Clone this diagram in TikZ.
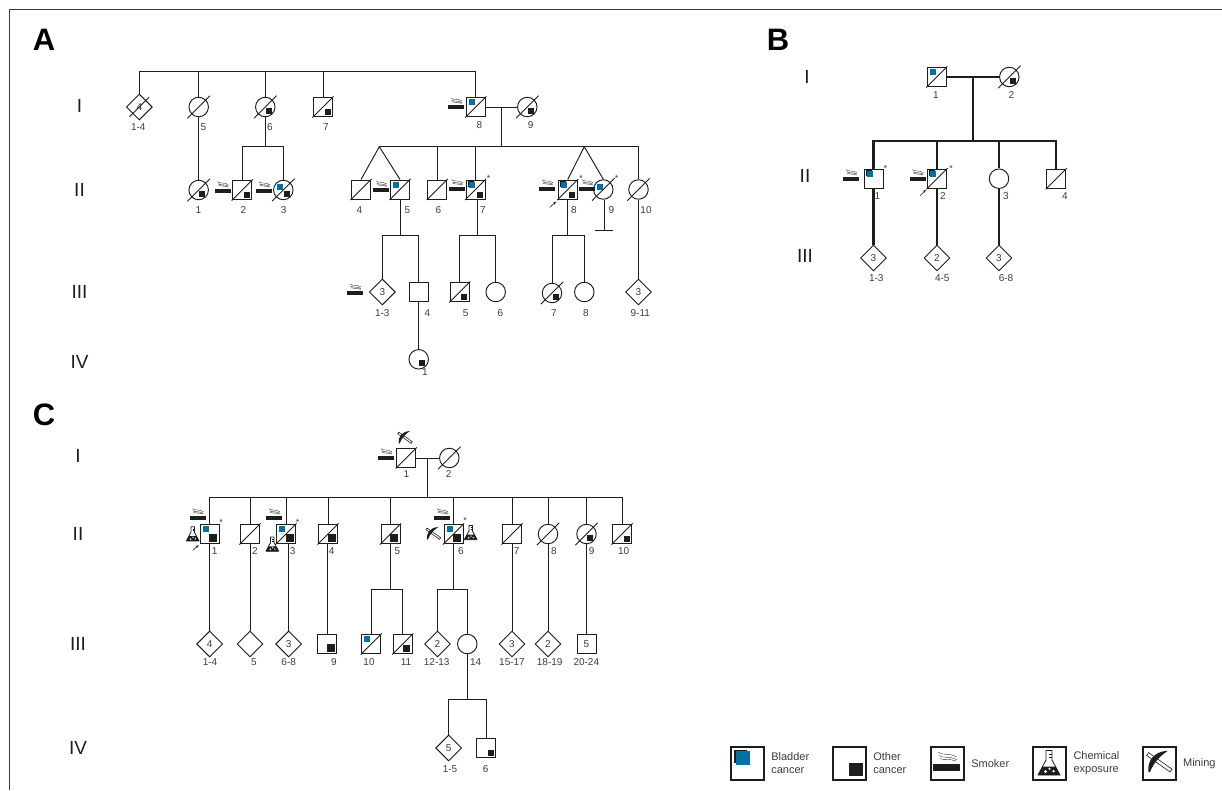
\documentclass[tikz,border=0pt]{standalone}
\usepackage{fontspec}
\setmainfont{Liberation Sans}
\usetikzlibrary{shapes.geometric,arrows.meta,positioning}
\definecolor{bladderblue}{HTML}{0071A6}
\definecolor{inkblack}{HTML}{1D1D1B}
\definecolor{tagtext}{HTML}{3C3C3B}
\newcommand{\mbl}{\fill[bladderblue] ([shift={(-7pt,2pt)}]path picture bounding box.center) rectangle +(6pt,6pt);}
\newcommand{\mbk}{\fill[inkblack] ([shift={(-8pt,3pt)}]path picture bounding box.center) rectangle +(6pt,6pt);\mbl}
\newcommand{\mot}[1]{\fill[inkblack] ([shift={(7.5pt,-8pt)}]path picture bounding box.center) rectangle +(-#1,#1);}
\newcommand{\mcbl}{\fill[bladderblue] ([shift={(-6pt,0pt)}]path picture bounding box.center) rectangle +(6pt,6pt);}
\newcommand{\mcot}{\fill[inkblack] ([shift={(0.5pt,-1pt)}]path picture bounding box.center) rectangle +(6pt,-6pt);}
\begin{document}
\begin{tikzpicture}[
  x=1pt, y=1pt, line width=.95pt, inkblack,
  male/.style={rectangle, draw, minimum size=19pt, inner sep=0pt, font=\fontsize{10}{10}\selectfont},
  female/.style={circle, draw, minimum size=19.5pt, inner sep=0pt},
  unknown/.style={diamond, aspect=1, draw, minimum size=26pt, inner sep=0pt, text=tagtext, font=\fontsize{10}{10}\selectfont},
  dead/.style={append after command={([shift={(-#1,-#1)}]\tikzlastnode.south west) edge[line width=.9pt] ([shift={(#1,#1)}]\tikzlastnode.north east)}},
  dead/.default=.6pt,
  marks/.style={path picture={#1}},
  tag/.style={text=tagtext, inner sep=0pt, font=\fontsize{10}{10}\selectfont},
  star/.style={text=tagtext, inner sep=0pt, font=\fontsize{9}{9}\selectfont},
  gen/.style={text=inkblack, inner sep=0pt, font=\fontsize{19}{19}\selectfont},
  panel/.style={text=black, inner sep=0pt, font=\fontsize{31}{31}\selectfont\bfseries},
  bline/.style={line width=2.3pt},
  proband/.style={line width=.6pt, -{Stealth[length=3.5pt,width=2.5pt]}},
  legbox/.style={rectangle, draw, line width=1.7pt, minimum size=33pt, inner sep=0pt},
  legtext/.style={text=tagtext, inner sep=0pt, align=left, font=\fontsize{11}{13.4}\selectfont},
  smoker/.pic={
    \fill (-8,-2.1) rectangle (8,2.1);
    \draw[line width=.35pt] (-5,9) .. controls (-2,6.5) and (1,9) .. (6,6) (-4.5,7) .. controls (-2,5) and (1,7) .. (6,4.5) (-4,5.2) .. controls (-2,4) and (1,5.5) .. (5.5,3.6);
  },
  flask/.pic={
    \draw[line width=.8pt, line join=round] (-3,12.5) -- (-3,3) -- (-11,-12) -- (11,-12) -- (3,3) -- (3,12.5) -- cycle;
    \fill (-6.4,-3.5) -- (6.4,-3.5) -- (11,-12) -- (-11,-12) -- cycle;
    \fill[white] (-3.5,-8.7) circle (1.5) (0.5,-5.8) circle (1.2) (4.5,-8.2) circle (1.3);
    \draw[line width=.5pt] (0,9) -- (3,9) (0,6) -- (3,6);
  },
  pick/.pic={
    \draw[fill=white, line width=.6pt] (-10.7,10.7) -- (12.7,-5.9) -- (10.7,-8.7) -- (-12.7,7.9) -- cycle;
    \fill (-11,-8.5) .. controls (-12,3) and (-5,12) .. (8.5,12.5) .. controls (1,7.5) and (-5.5,1) .. (-9.5,-9) -- cycle;
  },
  ]
 \useasboundingbox (0,0) rectangle (1222,-790);
 \draw[tagtext, line width=1pt] (9,-790) -- (9,-9) -- (1222,-9);

 \node[panel] (pa) at (44,-40) {A};
 \node[panel] (pb) at (778,-40) {B};
 \node[panel] (pc) at (44,-415) {C};
 \foreach \x/\y/\lab [count=\i] in {79.5/-105.5/I, 79.5/-190/II, 79.5/-292/III, 79.5/-362/IV, 807/-76.7/I, 805/-176/II, 805/-256/III, 78/-456/I, 78/-534/II, 78/-644/III, 78/-748/IV}
   \node[gen] (g\i) at (\x,\y) {\lab};

 % panel A
 \node[unknown, dead=3pt] (a11) at (139.3,-107) {4};
 \node[female, dead=4pt] (a15) at (198.7,-107) {};
 \node[female, dead=4pt, marks={\mcot}] (a16) at (265.3,-107) {};
 \node[male, dead, marks={\mot{6pt}}] (a17) at (323,-107) {};
 \node[male, dead, marks={\mbl}] (a18) at (475.8,-107) {};
 \node[female, dead=4pt, marks={\mcot}] (a19) at (527.3,-107) {};

 \node[female, dead=4pt, marks={\mcot}] (a21) at (198.7,-190) {};
 \node[male, dead, marks={\mot{6pt}}] (a22) at (242.3,-190) {};
 \node[female, dead=4pt, marks={\mcbl\mcot}] (a23) at (283.3,-190) {};
 \node[male, dead] (a24) at (361,-189.5) {};
 \node[male, dead, marks={\mbl}] (a25) at (400,-189.5) {};
 \node[male, dead] (a26) at (437.3,-189.5) {};
 \node[male, dead, marks={\mbk\mot{6pt}}] (a27) at (475.5,-189.5) {};
 \node[male, dead, marks={\mbk\mot{6pt}}] (a28) at (567.7,-189.5) {};
 \node[female, dead=4pt, marks={\mcbl}] (a29) at (603.3,-189.5) {};
 \node[female, dead=4pt] (a210) at (638.5,-189.5) {};

 \node[unknown] (a31) at (382.3,-292) {3};
 \node[male] (a34) at (418.7,-292) {};
 \node[male, dead, marks={\mot{6pt}}] (a35) at (459.7,-292) {};
 \node[female] (a36) at (495.7,-292) {};
 \node[female, dead=4pt, marks={\mcot}] (a37) at (552,-293) {};
 \node[female] (a38) at (584.3,-292) {};
 \node[unknown] (a39) at (638.5,-292) {3};
 \node[female, marks={\mcot}] (a41) at (418.7,-359.3) {};

 \coordinate (atop) at (475.8,-71.7);
 \coordinate (a1m) at (501.7,-107);
 \coordinate (a2s) at (501.7,-146.7);
 \coordinate (a2j) at (265.3,-146.7);
 \coordinate (a2t1) at (379.3,-146.7);
 \coordinate (a2t2) at (584.3,-146.7);
 \coordinate (a3j1) at (400.7,-235.3);
 \coordinate (a3j2) at (477,-235.3);
 \coordinate (a3j3) at (567.7,-235.3);
 \coordinate (a9e) at (604.3,-230);

 \draw (a11) |- (atop) -- (a18);
 \draw (a15 |- atop) -- (a15);
 \draw (a16 |- atop) -- (a16);
 \draw (a17 |- atop) -- (a17);
 \draw (a18) -- (a19);
 \draw (a1m) -- (a2s);
 \draw (a15) -- (a21);
 \draw (a16) -- (a2j);
 \draw (a22) |- (a2j) -| (a23);
 \draw (a2t1) -| (a210);
 \draw (a24.north) -- (a2t1) -- (a25.north);
 \draw (a26 |- a2t1) -- (a26);
 \draw (a27 |- a2t1) -- (a27);
 \draw (a28.north) -- (a2t2) -- (a29.north);
 \draw (a25.south -| a3j1) -- (a3j1);
 \draw (a31) |- (a3j1) -| (a34);
 \draw (a27.south -| a3j2) -- (a3j2);
 \draw (a35) |- (a3j2) -| (a36);
 \draw (a28.south -| a3j3) -- (a3j3);
 \draw (a37) |- (a3j3) -| (a38);
 \draw (a29.south -| a9e) -- (a9e);
 \draw ([xshift=-9pt]a9e) -- ([xshift=9pt]a9e);
 \draw (a210) -- (a39);
 \draw (a34) -- (a41);
 \draw[proband] ([shift={(-8pt,-8pt)}]a28.south west) -- ([shift={(-1.5pt,-2pt)}]a28.south west);

 % panel B
 \node[male, dead, marks={\mbl}] (b11) at (936.7,-77) {};
 \node[female, dead=4pt, marks={\mcot}] (b12) at (1009.3,-77) {};
 \node[male, marks={\mbk}] (b21) at (873.5,-178.7) {};
 \node[male, dead, marks={\mbk}] (b22) at (937,-178.7) {};
 \node[female] (b23) at (999,-178.7) {};
 \node[male, dead] (b24) at (1056.3,-178.7) {};
 \node[unknown] (b31) at (873.5,-258) {3};
 \node[unknown] (b32) at (937,-258) {2};
 \node[unknown] (b33) at (999,-258) {3};

 \coordinate (bm) at (973,-77);
 \coordinate (bs) at (973,-141.3);

 \draw[bline] (b11) -- (b12);
 \draw[bline] (bm) -- (bs);
 \draw[bline] (b21) |- (bs) -| (b24);
 \draw[bline] (b22 |- bs) -- (b22);
 \draw[bline] (b23 |- bs) -- (b23);
 \draw[bline] (b21) -- (b31);
 \draw[bline] (b22) -- (b32);
 \draw[bline] (b23) -- (b33);
 \draw[proband] ([shift={(-7pt,-7pt)}]b22.south west) -- ([shift={(-1pt,-1pt)}]b22.south west);

 % panel C
 \node[male, dead] (c11) at (406.3,-458) {};
 \node[female, dead=4pt] (c12) at (449.3,-458) {};
 \node[male, marks={\mbl\mot{8pt}}] (c21) at (209.7,-534) {};
 \node[male, dead] (c22) at (250,-534) {};
 \node[male, dead, marks={\mbl\mot{8pt}}] (c23) at (286,-534) {};
 \node[male, dead, marks={\mot{8pt}}] (c24) at (328,-534) {};
 \node[male, dead, marks={\mot{8pt}}] (c25) at (390.5,-534) {};
 \node[male, dead, marks={\mbl\mot{8.5pt}}] (c26) at (453.5,-534) {};
 \node[male, dead] (c27) at (512,-534) {};
 \node[female, dead=4pt] (c28) at (548,-534) {};
 \node[female, dead=4pt, marks={\mcot}] (c29) at (586.5,-534) {};
 \node[male, dead, marks={\mot{6pt}}] (c210) at (622,-534) {};

 \node[unknown] (c31) at (209.7,-644) {4};
 \node[unknown] (c32) at (250,-644) {};
 \node[unknown] (c33) at (288.7,-644) {3};
 \node[male, marks={\mot{8pt}}] (c34) at (327,-644) {};
 \node[male, dead, marks={\mbl}] (c310) at (371.2,-644) {};
 \node[male, dead, marks={\mot{7pt}}] (c311) at (402.7,-644) {};
 \node[unknown] (c312) at (437.5,-644) {2};
 \node[female] (c314) at (467.3,-644) {};
 \node[unknown] (c315) at (512,-644) {3};
 \node[unknown] (c318) at (548,-644) {2};
 \node[male] (c320) at (586.5,-644) {\textcolor{tagtext}{5}};
 \node[unknown] (c41) at (448.7,-748) {5};
 \node[male, marks={\mot{6pt}}] (c46) at (486,-748) {};

 \coordinate (cm) at (427.3,-458);
 \coordinate (cs) at (427.3,-497.3);
 \coordinate (c3j1) at (390.5,-589.3);
 \coordinate (c3j2) at (453.5,-589.3);
 \coordinate (c4j) at (467.3,-699);

 \draw (c11) -- (c12);
 \draw (cm) -- (cs);
 \draw (c21) |- (cs) -| (c210);
 \foreach \n in {c22,c23,c24,c25,c26,c27,c28,c29}
   \draw (\n |- cs) -- (\n);
 \draw (c21) -- (c31);
 \draw (c22) -- (c32);
 \draw (c23.south -| c33) -- (c33);
 \draw (c24.south -| c34) -- (c34);
 \draw (c25) -- (c3j1);
 \draw (c310) |- (c3j1) -| (c311);
 \draw (c26) -- (c3j2);
 \draw (c312) |- (c3j2) -| (c314);
 \draw (c27) -- (c315);
 \draw (c28) -- (c318);
 \draw (c29) -- (c320);
 \draw (c314) -- (c4j);
 \draw (c41) |- (c4j) -| (c46);
 \draw[proband] ([shift={(-7pt,-6.5pt)}]c21.south west) -- ([shift={(-1pt,-1pt)}]c21.south west);

 % texts under the symbols
 \foreach \x/\y/\lab [count=\i] in {
   138.3/-126.7/1-4, 203.3/-126.7/5, 270/-126.7/6, 326/-126.7/7, 479.3/-125.3/8, 530.7/-125.3/9,
   198.3/-210.3/1, 243.3/-210.3/2, 283.7/-210.3/3, 359.3/-210.3/4, 407.3/-210.3/5, 438.3/-210.3/6, 483/-210.3/7, 574/-210.3/8, 611.3/-210.3/9, 646/-210.3/10,
   382.3/-313.3/1-3, 427.3/-313.3/4, 465.7/-313.3/5, 500.3/-313.3/6, 554/-313.3/7, 586/-313.3/8, 640.3/-313.3/9-11, 425/-372.3/1,
   936/-95/1, 1011.3/-95/2, 877.3/-195.7/1, 943/-195.7/2, 1006/-195.7/3, 1065/-195.7/4, 876.3/-278.3/1-3, 942.3/-278.3/4-5, 1006/-278.3/6-8,
   406.3/-474/1, 448.7/-474/2, 214.7/-550.7/1, 255/-550.7/2, 292.7/-550.7/3, 331.7/-550.7/4, 397.3/-550.7/5, 461/-550.7/6, 516.7/-550.7/7, 554/-550.7/8, 591.7/-550.7/9, 623.7/-550.7/10,
   210/-662.3/1-4, 254/-662.3/5, 288.7/-662.3/6-8, 334/-662.3/9, 369/-662.3/10, 406/-662.3/11, 436.7/-662.3/12-13, 475.7/-662.3/14, 512/-662.3/15-17, 549.7/-662.3/18-19, 586.3/-662.3/20-24,
   450/-769.3/1-5, 485.7/-769.3/6}
   \node[tag] (t\i) at (\x,\y) {\lab};
 \foreach \x/\y [count=\i] in {488.7/-178, 581/-178, 616.7/-178, 885.3/-168, 951/-168, 221/-522.5, 297.7/-522.5, 465/-520.5}
   \node[star] (s\i) at (\x,\y) {*};

 % smokers, chemicals, mining
 \foreach \x/\y in {456/-107, 222.5/-190.7, 263.8/-190.7, 381/-190, 456.7/-188.7, 547/-188.7, 587/-188.7, 355/-293, 851/-178.7, 917.5/-178.7, 386/-457.7, 197.5/-517.7, 274/-517.7, 442/-517.7}
   \pic at (\x,\y) {smoker};
 \foreach \x/\y in {192.7/-534, 272.3/-544.3, 470.7/-532.7}
   \pic[scale=.58] at (\x,\y) {flask};
 \foreach \x/\y in {405/-438.3, 433.3/-534.3}
   \pic[scale=.58] at (\x,\y) {pick};

 % legend
 \node[legbox] (l1) at (747.5,-763.3) {};
 \node[legbox] (l2) at (849.5,-763.3) {};
 \node[legbox] (l3) at (947.5,-763.3) {};
 \node[legbox] (l4) at (1049.7,-763.3) {};
 \node[legbox] (l5) at (1159.3,-763.3) {};
 \node[legtext, right=6pt of l1] (lt1) {Bladder\\cancer};
 \node[legtext, right=6pt of l2] (lt2) {Other\\cancer};
 \node[legtext, right=6pt of l3] (lt3) {Smoker};
 \node[legtext, right=6pt of l4] (lt4) {Chemical\\exposure};
 \node[legtext, right=6pt of l5] (lt5) {Mining};
 \fill (733.5,-749.5) rectangle (747.3,-762.5);
 \fill[bladderblue] (736,-751.3) rectangle (750,-765);
 \fill (849,-763) rectangle (863,-775.7);
 \pic[scale=1.7] at (946.5,-767.3) {smoker};
 \pic at (1049,-763) {flask};
 \pic at (1159.3,-763.3) {pick};
\end{tikzpicture}
\end{document}
